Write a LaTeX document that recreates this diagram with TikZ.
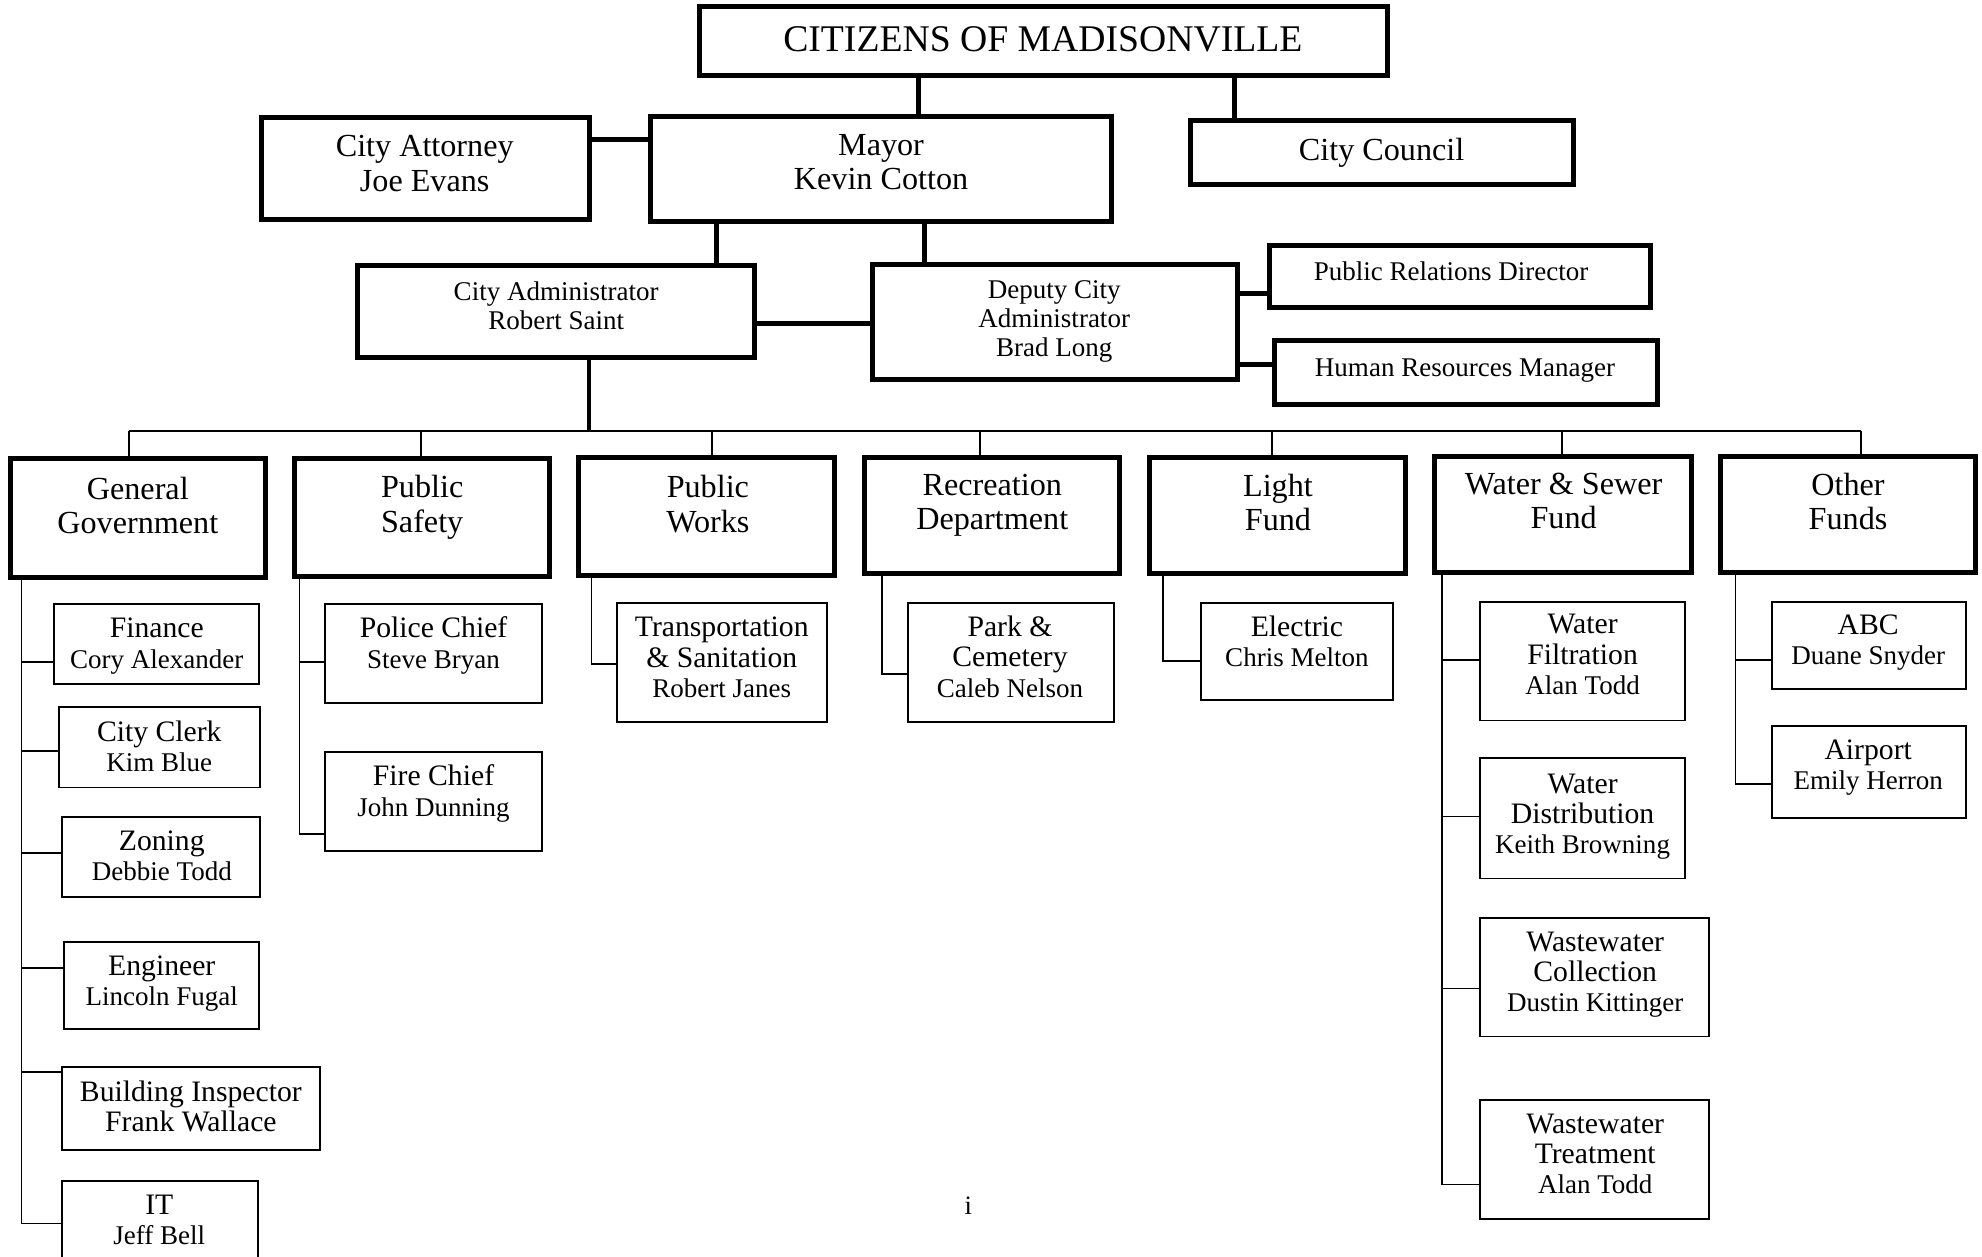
\documentclass[tikz,border=0pt]{standalone}
\usepackage{fontspec}
\setmainfont{Liberation Serif}
\usetikzlibrary{fit}
\newcommand\fs[2]{\fontsize{#1}{#2}\selectfont}
\newcommand\mkbox[6]{\node[#2, fit={(#3,#4) (#5,#6)}] (#1) {};}
\tikzset{
  bigbox/.style={draw, line width=2.8pt, inner sep=0pt},
  smallbox/.style={draw, line width=1.1pt, inner sep=0pt},
  fat/.style={line width=2.8pt},
  mid/.style={line width=2.2pt},
  thin/.style={line width=1pt},
  lbl/.style={anchor=north, inner sep=0pt, align=center},
  toplbl/.style={lbl, font=\fs{21.2}{22}},
  mainlbl/.style={lbl, font=\fs{18.1}{19.2}},
  admlbl/.style={lbl, font=\fs{15.2}{16.4}},
  deptlbl/.style={lbl, font=\fs{18.1}{19.2}},
  sublbl/.style={lbl, font=\fs{16.7}{17.1}},
}
\newcommand\nm[1]{{\fs{15.2}{17.1}#1}}
\begin{document}
\begin{tikzpicture}[x=0.025cm,y=-0.025cm]
\fill[white] (0,0) rectangle (1568,994);
\useasboundingbox (0,0) rectangle (1568,994);
% top boxes
\mkbox{cit}{bigbox}{553}{5}{1098}{60}
\mkbox{att}{bigbox}{207}{93}{466}{174}
\mkbox{mayor}{bigbox}{515}{92}{879}{175}
\mkbox{council}{bigbox}{942}{95}{1245}{146}
\mkbox{admin}{bigbox}{283}{210}{597}{283}
\mkbox{deputy}{bigbox}{690}{209}{979}{300}
\mkbox{pr}{bigbox}{1004}{194}{1306}{243}
\mkbox{hr}{bigbox}{1008}{269}{1311}{320}
% departments
\mkbox{gg}{bigbox}{8}{363}{210}{457}
\mkbox{ps}{bigbox}{233}{363}{435}{456}
\mkbox{pw}{bigbox}{458}{362}{660}{455}
\mkbox{rec}{bigbox}{684}{362}{886}{454}
\mkbox{light}{bigbox}{909}{362}{1112}{454}
\mkbox{ws}{bigbox}{1135}{361}{1338}{453}
\mkbox{other}{bigbox}{1361}{361}{1563}{453}
% sub boxes
\mkbox{fin}{smallbox}{43}{478}{205}{541}
\mkbox{clerk}{smallbox}{47}{559}{206}{623}
\mkbox{zon}{smallbox}{49}{646}{206}{710}
\mkbox{eng}{smallbox}{51}{745}{205}{814}
\mkbox{bld}{smallbox}{49}{844}{253}{910}
\mkbox{it}{smallbox}{49}{934}{204}{1005}
\mkbox{police}{smallbox}{257}{478}{429}{556}
\mkbox{fire}{smallbox}{257}{595}{429}{673}
\mkbox{trans}{smallbox}{488}{477}{654}{571}
\mkbox{park}{smallbox}{718}{477}{881}{571}
\mkbox{elec}{smallbox}{950}{477}{1102}{554}
\mkbox{wf}{smallbox}{1171}{476}{1333}{570}
\mkbox{wd}{smallbox}{1171}{600}{1333}{695}
\mkbox{wc}{smallbox}{1171}{726}{1352}{820}
\mkbox{wt}{smallbox}{1171}{870}{1352}{964}
\mkbox{abc}{smallbox}{1402}{476}{1555}{545}
\mkbox{air}{smallbox}{1402}{574}{1555}{647}
% labels
\node[toplbl] (citt) at (825,21) {CITIZENS OF MADISONVILLE};
\node[mainlbl] (attt) at (336,107) {City Attorney\\Joe Evans};
\node[mainlbl] (mayort) at (697,106) {Mayor\\Kevin Cotton};
\node[mainlbl] (councilt) at (1093,109) {City Council};
\node[admlbl] (admint) at (440,222.5) {City Administrator\\Robert Saint};
\node[admlbl] (deputyt) at (834,221.5) {Deputy City\\Administrator\\Brad Long};
\node[admlbl] (prt) at (1148,206.5) {Public Relations Director};
\node[admlbl] (hrt) at (1159,283.5) {Human Resources Manager};
\node[deptlbl] (ggt) at (109,377) {General\\Government};
\node[deptlbl] (pst) at (334,376) {Public\\Safety};
\node[deptlbl] (pwt) at (560,376) {Public\\Works};
\node[deptlbl] (rect) at (785,375) {Recreation\\Department};
\node[deptlbl] (lightt) at (1011,375) {Light\\Fund};
\node[deptlbl] (wst) at (1237,374) {Water \& Sewer\\Fund};
\node[deptlbl] (othert) at (1462,374) {Other\\Funds};
\node[sublbl] (fint) at (124,488.8) {Finance\\\nm{Cory Alexander}};
\node[sublbl] (clerkt) at (126,569.8) {City Clerk\\\nm{Kim Blue}};
\node[sublbl] (zont) at (128,656.8) {Zoning\\\nm{Debbie Todd}};
\node[sublbl] (engt) at (128,755.8) {Engineer\\\nm{Lincoln Fugal}};
\node[sublbl] (bldt) at (151,854.8) {Building Inspector\\Frank Wallace};
\node[sublbl] (itt) at (126,944.8) {IT\\\nm{Jeff Bell}};
\node[sublbl] (policet) at (343,487.8) {Police Chief\\\nm{Steve Bryan}};
\node[sublbl] (firet) at (343,604.8) {Fire Chief\\\nm{John Dunning}};
\node[sublbl] (transt) at (571,487.8) {Transportation\\\& Sanitation\\\nm{Robert Janes}};
\node[sublbl] (parkt) at (799,486.8) {Park \&\\Cemetery\\\nm{Caleb Nelson}};
\node[sublbl] (elect) at (1026,486.8) {Electric\\\nm{Chris Melton}};
\node[sublbl] (wft) at (1252,485.8) {Water\\Filtration\\\nm{Alan Todd}};
\node[sublbl] (wdt) at (1252,611.8) {Water\\Distribution\\\nm{Keith Browning}};
\node[sublbl] (wct) at (1262,736.8) {Wastewater\\Collection\\\nm{Dustin Kittinger}};
\node[sublbl] (wtt) at (1262,880.8) {Wastewater\\Treatment\\\nm{Alan Todd}};
\node[sublbl] (abct) at (1478,485.8) {ABC\\\nm{Duane Snyder}};
\node[sublbl] (airt) at (1478,584.8) {Airport\\\nm{Emily Herron}};
\node[font=\fs{15}{16}] (page) at (766,954) {i};
% top connectors
\draw[fat] (727,0 |- cit.south) -- (727,0 |- mayor.north);
\draw[fat] (977,0 |- cit.south) -- (977,0 |- council.north);
\draw[fat] (att.east |- 0,110) -- (mayor.west |- 0,110);
\draw[fat] (567,0 |- mayor.south) -- (567,0 |- admin.north);
\draw[fat] (731,0 |- mayor.south) -- (731,0 |- deputy.north);
\draw[fat] (admin.east |- 0,256) -- (deputy.west |- 0,256);
\draw[fat] (deputy.east |- 0,232) -- (pr.west |- 0,232);
\draw[fat] (deputy.east |- 0,288) -- (hr.west |- 0,288);
% bus
\coordinate (busL) at (102,341);
\coordinate (busR) at (1472,341);
\draw[mid] (466,0 |- admin.south) -- (466,0 |- busL);
\draw[thin] (busL) -- (busR);
\draw[thin] (busL) -- (busL |- gg.north);
\draw[thin] (333,341) -- (333,0 |- ps.north);
\draw[thin] (563,341) -- (563,0 |- pw.north);
\draw[thin] (775,341) -- (775,0 |- rec.north);
\draw[thin] (1006,341) -- (1006,0 |- light.north);
\draw[thin] (1236,341) -- (1236,0 |- ws.north);
\draw[thin] (busR) -- (busR |- other.north);
% branches
\draw[thin] (17,0 |- gg.south) |- (fin.west |- 0,524);
\draw[thin] (17,0 |- gg.south) |- (clerk.west |- 0,594);
\draw[thin] (17,0 |- gg.south) |- (zon.west |- 0,675);
\draw[thin] (17,0 |- gg.south) |- (eng.west |- 0,766);
\draw[thin] (17,0 |- gg.south) |- (bld.west |- 0,848);
\draw[thin] (17,0 |- gg.south) |- (it.west |- 0,968);
\draw[thin] (237,0 |- ps.south) |- (police.west |- 0,524);
\draw[thin] (237,0 |- ps.south) |- (fire.west |- 0,660);
\draw[thin] (468,0 |- pw.south) |- (trans.west |- 0,525);
\draw[thin] (698,0 |- rec.south) |- (park.west |- 0,533);
\draw[thin] (920,0 |- light.south) |- (elec.west |- 0,523);
\draw[thin] (1141,0 |- ws.south) |- (wf.west |- 0,522);
\draw[thin] (1141,0 |- ws.south) |- (wd.west |- 0,646);
\draw[thin] (1141,0 |- ws.south) |- (wc.west |- 0,782);
\draw[thin] (1141,0 |- ws.south) |- (wt.west |- 0,937);
\draw[thin] (1373,0 |- other.south) |- (abc.west |- 0,522);
\draw[thin] (1373,0 |- other.south) |- (air.west |- 0,620);
\end{tikzpicture}
\end{document}
